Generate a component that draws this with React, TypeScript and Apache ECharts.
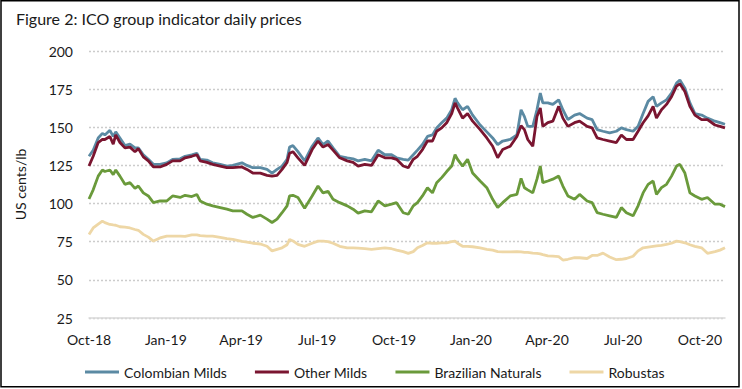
import React, { useEffect, useRef } from "react";
import * as echarts from "echarts";

const dates = [
  "2018-10-01", "2018-10-06", "2018-10-12", "2018-10-17", "2018-10-20", "2018-10-26", "2018-10-30",
  "2018-11-02", "2018-11-07", "2018-11-13", "2018-11-19", "2018-11-25", "2018-11-29", "2018-12-05",
  "2018-12-11", "2018-12-17", "2018-12-25", "2019-01-02", "2019-01-09", "2019-01-18", "2019-01-24",
  "2019-02-01", "2019-02-07", "2019-02-11", "2019-02-19", "2019-02-26", "2019-03-07", "2019-03-15",
  "2019-03-22", "2019-04-02", "2019-04-08", "2019-04-15", "2019-04-24", "2019-05-02", "2019-05-08",
  "2019-05-14", "2019-05-20", "2019-05-26", "2019-05-29", "2019-06-02", "2019-06-08", "2019-06-16",
  "2019-06-25", "2019-07-02", "2019-07-08", "2019-07-14", "2019-07-20", "2019-07-28", "2019-08-06",
  "2019-08-13", "2019-08-19", "2019-08-27", "2019-09-04", "2019-09-12", "2019-09-20", "2019-09-28",
  "2019-10-04", "2019-10-12", "2019-10-18", "2019-10-24", "2019-10-29", "2019-11-04", "2019-11-10",
  "2019-11-16", "2019-11-21", "2019-11-27", "2019-12-03", "2019-12-09", "2019-12-13", "2019-12-16",
  "2019-12-22", "2019-12-28", "2020-01-03", "2020-01-12", "2020-01-20", "2020-01-27", "2020-02-02",
  "2020-02-08", "2020-02-17", "2020-02-25", "2020-03-01", "2020-03-05", "2020-03-09", "2020-03-15",
  "2020-03-20", "2020-03-24", "2020-03-27", "2020-04-02", "2020-04-08", "2020-04-15", "2020-04-20",
  "2020-04-26", "2020-05-04", "2020-05-10", "2020-05-19", "2020-05-25", "2020-05-31", "2020-06-07",
  "2020-06-15", "2020-06-23", "2020-06-29", "2020-07-05", "2020-07-13", "2020-07-19", "2020-07-25",
  "2020-07-31", "2020-08-06", "2020-08-10", "2020-08-16", "2020-08-22", "2020-08-28", "2020-09-03",
  "2020-09-07", "2020-09-13", "2020-09-19", "2020-09-25", "2020-10-03", "2020-10-10", "2020-10-19",
  "2020-10-25", "2020-10-31",
];

const colombianMilds = [
  131, 135, 143, 146, 145, 148, 144,
  147, 143, 138, 139, 136.5, 136.5, 132,
  129, 125.7, 125.7, 126.7, 129, 129.3, 131,
  132, 133, 129, 128.5, 126.7, 125.7, 124.6,
  125, 126.7, 125, 123.5, 123.5, 122.4, 120,
  122.4, 124.6, 129, 137, 138, 134, 128,
  137.6, 143, 138.7, 141, 136.5, 131, 130,
  129.3, 128, 129, 128, 135, 132, 132,
  130, 129, 128.5, 132, 135, 138.7, 144,
  145, 149.6, 153, 156, 161.5, 169, 166,
  161.5, 163.7, 158, 151.5, 147, 143, 138.7,
  141, 142, 145, 161.5, 157, 150.6, 150.6,
  161.5, 172.4, 166, 166, 165, 168, 161.5,
  155, 158, 159, 156, 155, 148.5, 147.4,
  146.3, 147.4, 149.6, 148.5, 147.4, 150.6, 159,
  167, 170, 163.7, 166, 168, 172.4, 179,
  181, 175.6, 166, 159, 158, 156, 154,
  153, 152,
];

const otherMilds = [
  124.6, 131, 140, 142, 142, 144, 139,
  145, 140, 136.5, 137, 134, 136, 130.6,
  128, 124, 124, 125.7, 128, 128, 130,
  131, 132, 128, 127, 125.7, 124.6, 123.5,
  123.5, 124, 122.4, 120, 120, 118.5, 118,
  118.5, 122.4, 127, 133, 134, 130, 125,
  135.4, 141, 137, 138.7, 135, 130, 128,
  127, 124.6, 125.7, 125, 132, 130, 130,
  129, 124.6, 123.5, 129, 131, 135.4, 141,
  141, 147.4, 149.6, 153, 159, 166, 162.6,
  156, 159, 154, 148.5, 143, 137.6, 130,
  135.4, 137.6, 144, 151, 148.5, 142, 137.6,
  157, 162.6, 150.6, 153, 154, 163.7, 156,
  150.6, 153, 154, 150.6, 149.6, 143, 142,
  141, 140, 145, 142, 142, 147.4, 153,
  157.5, 163.7, 156, 161.5, 165, 170, 177,
  178.5, 173.5, 163.7, 158, 155, 155, 151.5,
  150.6, 149.6,
];

const brazilianNaturals = [
  103, 109, 118, 122, 121, 122, 119,
  122, 118, 112.6, 113.7, 110, 111.5, 107,
  105, 100.6, 101.7, 101.7, 105, 104, 105.4,
  104.6, 106, 101.7, 99.6, 98.5, 97.4, 96.3,
  95.2, 95.2, 93, 90.9, 92.4, 89.8, 87.6,
  89.8, 94, 98.5, 105, 105.4, 104, 97,
  105, 111.5, 107, 108, 102.8, 100.6, 98.5,
  96.3, 93.7, 95.2, 94.6, 101.7, 98.5, 99.6,
  100.6, 94, 93, 98.5, 100.6, 105, 110.4,
  107, 113.7, 117, 121, 124.6, 132, 129,
  124.6, 129, 120, 114.8, 110.4, 102.8, 97.4,
  100.6, 105, 106, 116.5, 110.4, 109, 107,
  116, 124.6, 113.7, 114.8, 116, 118, 111.5,
  105, 102.8, 106, 101.7, 100.6, 94, 93,
  92, 90.9, 97.4, 94, 92, 98.5, 107,
  112.6, 114.8, 106, 110.4, 112.6, 118, 124.6,
  125.7, 120, 107, 105, 102.8, 104, 99.6,
  99.6, 98,
];

const robustas = [
  79.8, 84, 86.5, 88.5, 87.5, 86.3, 86,
  85.8, 84.8, 84.5, 84, 83, 82.5, 79.8,
  78, 75.4, 77.5, 78.7, 78.7, 78.7, 78.5,
  79.5, 79.5, 79, 78.7, 78.7, 77.8, 77,
  76.5, 75.2, 74.8, 74, 73.5, 72, 69,
  70, 71, 73, 76.5, 75.5, 73.3, 72,
  74, 75.4, 75.4, 75, 74, 72, 71,
  71, 70.8, 70.5, 70, 70.5, 71, 70.4,
  69.5, 68.5, 67.4, 68.5, 71, 72.5, 74.3,
  74, 74, 74.2, 74.3, 75, 75.4, 74,
  72, 72, 71.7, 71, 70, 69.5, 68.5,
  68.3, 68.3, 68.5, 68.3, 68, 68, 67.5,
  67.4, 67, 66.5, 65.7, 65.5, 65.2, 63,
  63.5, 64.5, 64.5, 64, 66, 66, 67.5,
  65, 63.2, 63.5, 64, 65.5, 69, 71,
  71.5, 72, 72.3, 72.6, 73.2, 74, 75.4,
  75, 74.3, 73, 72, 71, 67.4, 68.5,
  69.5, 71,
];

const quarterTicks = [
  "2018-10-01", "2019-01-01", "2019-04-01", "2019-07-01", "2019-10-01",
  "2020-01-01", "2020-04-01", "2020-07-01", "2020-10-01",
];

const seriesNames = ["Colombian Milds", "Other Milds", "Brazilian Naturals", "Robustas"];
const seriesColors = ["#5b8aa3", "#7a1530", "#6a9a3b", "#eed7a6"];
const MONTHS = ["Jan", "Feb", "Mar", "Apr", "May", "Jun", "Jul", "Aug", "Sep", "Oct", "Nov", "Dec"];

const ts = (s: string) => {
  const [y, m, d] = s.split("-").map(Number);
  return new Date(y, m - 1, d).getTime();
};

const FONT = "Lato";

export default function App() {
  const ref = useRef<HTMLDivElement>(null);
  useEffect(() => {
    if (!ref.current) return;
    const chart = echarts.init(ref.current, undefined, { renderer: "svg" });
    const allValues = [colombianMilds, otherMilds, brazilianNaturals, robustas];
    chart.setOption({
      animation: false,
      backgroundColor: "#ffffff",
      textStyle: { fontFamily: FONT },
      title: {
        text: "Figure 2: ICO group indicator daily prices",
        left: 11,
        top: 5,
        textStyle: { fontFamily: FONT, fontSize: 16, fontWeight: "normal", color: "#1a1a1a" },
      },
      graphic: [
        {
          type: "rect",
          shape: { x: 1, y: 0.75, width: 738, height: 386 },
          style: { fill: "none", stroke: "#000000", lineWidth: 1.5 },
          silent: true,
        },
      ],
      legend: {
        left: 85,
        top: 365,
        padding: 0,
        icon: "rect",
        itemWidth: 34,
        itemHeight: 3,
        itemGap: 28,
        textStyle: { fontFamily: FONT, fontSize: 14, color: "#1a1a1a" },
        data: seriesNames,
      },
      grid: { left: 89, right: 17, top: 51, bottom: 71 },
      xAxis: {
        type: "value",
        min: ts("2018-10-01"),
        max: ts("2020-10-31"),
        axisLine: { show: true, lineStyle: { color: "#d9d9d9", width: 1.5 } },
        axisTick: { show: false },
        splitLine: { show: false },
        axisLabel: {
          customValues: quarterTicks.map(ts),
          showMinLabel: true,
          showMaxLabel: true,
          margin: 14,
          fontFamily: FONT,
          fontSize: 14,
          color: "#1a1a1a",
          formatter: (v: number) => {
            const d = new Date(v);
            return MONTHS[d.getMonth()] + "-" + String(d.getFullYear()).slice(2);
          },
        },
      },
      yAxis: {
        type: "value",
        min: 25,
        max: 200,
        interval: 25,
        name: "US cents/lb",
        nameLocation: "middle",
        nameGap: 62,
        nameTextStyle: { fontFamily: FONT, fontSize: 14, color: "#1a1a1a" },
        axisLine: { show: false },
        axisTick: { show: false },
        axisLabel: { fontFamily: FONT, fontSize: 14, color: "#1a1a1a", margin: 16 },
        splitLine: { lineStyle: { color: "#cccccc", type: [2, 2], width: 1.3 } },
      },
      series: seriesNames.map((name, i) => ({
        name,
        type: "line",
        showSymbol: false,
        symbol: "none",
        data: dates.map((d, j) => [ts(d), allValues[i][j]]),
        lineStyle: { color: seriesColors[i], width: 2.8 },
        itemStyle: { color: seriesColors[i] },
      })),
    });
    return () => chart.dispose();
  }, []);
  return (
    <div
      ref={ref}
      style={{ position: "fixed", left: 0, top: 0, width: 742, height: 389, background: "#fff" }}
    />
  );
}
